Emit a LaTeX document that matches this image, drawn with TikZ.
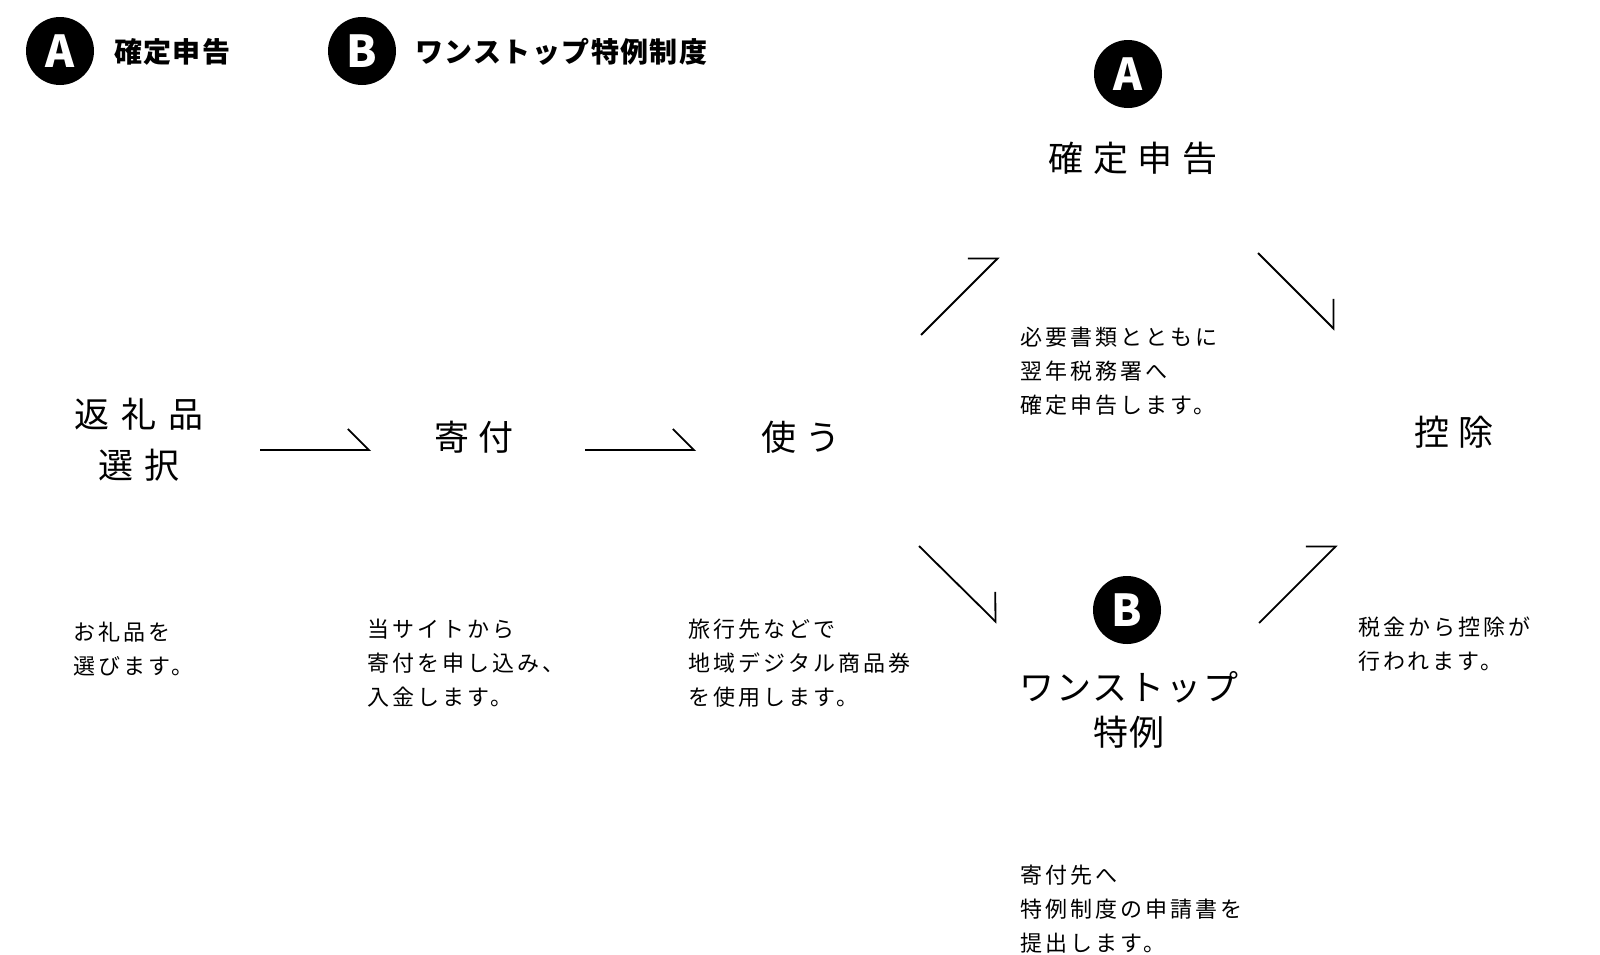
\documentclass[tikz,border=0pt]{standalone}
\usepackage{fontspec}
\setmainfont{Noto Sans CJK JP}
\newfontfamily\jp{Noto Sans CJK JP}
\newfontfamily\jpwide[LetterSpace=28]{Noto Sans CJK JP}
\newfontfamily\jpwider[LetterSpace=33]{Noto Sans CJK JP}
\newfontfamily\jpnote[LetterSpace=14]{Noto Sans CJK JP}
\newfontfamily\jplegend[LetterSpace=5]{Noto Sans CJK JP}
\usepackage{tikz}
\usetikzlibrary{arrows.meta}

\begin{document}
\begin{tikzpicture}[x=1pt,y=-1pt]
		\useasboundingbox (0,0) rectangle (1600,954);

		% badges A and B
		\begin{scope}[every node/.style={circle,fill=black,text=white,minimum size=68pt,inner sep=0pt,
		              font=\jp\bfseries\fontsize{44}{44}\selectfont}]
			\node (la) at (60,51) {A};
			\node (lb) at (362,51) {B};
			\node (ta) at (1128,74) {A};
			\node (tb) at (1127,610) {B};
		\end{scope}

		% legend
		\begin{scope}[every node/.style={anchor=base west,inner sep=0pt,
		              font=\jplegend\bfseries\fontsize{28}{28}\selectfont}]
			\node (lta) at (114,62) {確定申告};
			\node (ltb) at (415,62) {ワンストップ特例制度};
		\end{scope}

		% steps (base = last line)
		\begin{scope}[every node/.style={align=center,anchor=base,inner sep=0pt,
		              font=\jpwide\fontsize{35}{51}\selectfont}]
			\node[font=\jpwider\fontsize{35}{51}\selectfont] (1) at (139,478) {返礼品\\選択};
			\node (2) at (474,450) {寄付};
			\node (3) at (801,450) {使う};
			\node (4) at (1133,171) {確定申告};
			\node[font=\jplegend\fontsize{35}{45}\selectfont] (5) at (1129,745) {ワンストップ\\特例};
			\node (6) at (1454,445) {控除};
		\end{scope}

		% notes
		\begin{scope}[every node/.style={align=left,anchor=base west,inner sep=0pt,
		              font=\jpnote\fontsize{22}{34}\selectfont}]
			\node (n1) at (73,674) {お礼品を\\選びます。};
			\node (n2) at (367,705) {当サイトから\\寄付を申し込み、\\入金します。};
			\node (n3) at (688,705) {旅行先などで\\地域デジタル商品券\\を使用します。};
			\node (n4) at (1020,413) {必要書類とともに\\翌年税務署へ\\確定申告します。};
			\node (n5) at (1020,951) {寄付先へ\\特例制度の申請書を\\提出します。};
			\node (n6) at (1358,669) {税金から控除が\\行われます。};
		\end{scope}

		\coordinate (s1) at (260,450);  \coordinate (e1) at (371,450);
		\coordinate (s2) at (585,450);  \coordinate (e2) at (696,450);
		\coordinate (s3) at (921,335);  \coordinate (e3) at (999,257);
		\coordinate (s4) at (919,546);  \coordinate (e4) at (997,623);
		\coordinate (s5) at (1258,253); \coordinate (e5) at (1335,330);
		\coordinate (s6) at (1259,623); \coordinate (e6) at (1337,545);

		\begin{scope}[>={Straight Barb[harpoon,length=21pt,width=42pt]},
		              every edge/.style={draw=black,line width=1.8pt}]
			\path (s1) edge[->] (e1);
			\path (s2) edge[->] (e2);
			\path (s3) edge[->] (e3);
			\path (s4) edge[->] (e4);
			\path (s5) edge[->] (e5);
			\path (s6) edge[->] (e6);
		\end{scope}
		\end{tikzpicture}
\end{document}
